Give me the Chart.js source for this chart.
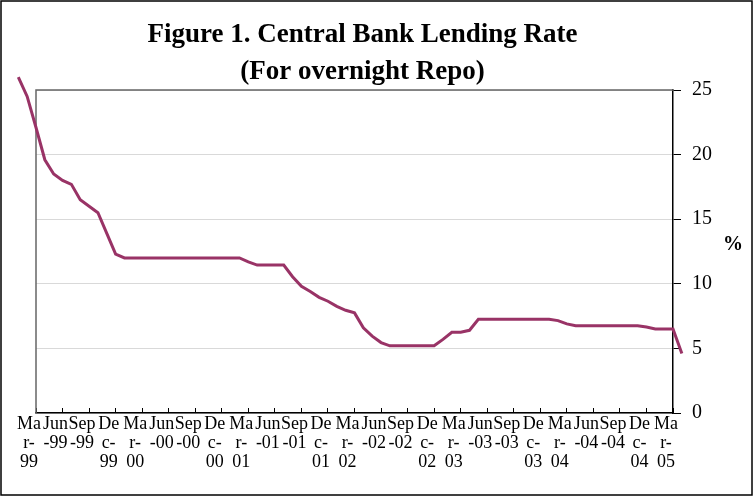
<!DOCTYPE html>
<html>
<head>
<meta charset="utf-8">
<script src="https://cdn.jsdelivr.net/npm/chart.js@4.4.0/dist/chart.umd.min.js"></script>
<style>
html,body{margin:0;padding:0;background:#fff;}
#wrap{width:756px;height:497px;position:relative;}
canvas{display:block;}
</style>
</head>
<body>
<div id="wrap"><canvas id="c" width="756" height="497"></canvas></div>
<script>
// Categories: monthly, Jan-99 .. Apr-05
const months = [
  "Jan-99","Feb-99","Mar-99","Apr-99","May-99","Jun-99","Jul-99","Aug-99","Sep-99","Oct-99","Nov-99","Dec-99",
  "Jan-00","Feb-00","Mar-00","Apr-00","May-00","Jun-00","Jul-00","Aug-00","Sep-00","Oct-00","Nov-00","Dec-00",
  "Jan-01","Feb-01","Mar-01","Apr-01","May-01","Jun-01","Jul-01","Aug-01","Sep-01","Oct-01","Nov-01","Dec-01",
  "Jan-02","Feb-02","Mar-02","Apr-02","May-02","Jun-02","Jul-02","Aug-02","Sep-02","Oct-02","Nov-02","Dec-02",
  "Jan-03","Feb-03","Mar-03","Apr-03","May-03","Jun-03","Jul-03","Aug-03","Sep-03","Oct-03","Nov-03","Dec-03",
  "Jan-04","Feb-04","Mar-04","Apr-04","May-04","Jun-04","Jul-04","Aug-04","Sep-04","Oct-04","Nov-04","Dec-04",
  "Jan-05","Feb-05","Mar-05","Apr-05"
];
// Central bank lending rate (overnight repo), %
const rates = [
  26.0, 24.5, 22.1, 19.6, 18.5, 18.0, 17.7, 16.5, 16.0, 15.5, 13.9, 12.3,
  12.0, 12.0, 12.0, 12.0, 12.0, 12.0, 12.0, 12.0, 12.0, 12.0, 12.0, 12.0,
  12.0, 12.0, 11.7, 11.45, 11.45, 11.45, 11.45, 10.55, 9.8, 9.4, 8.95, 8.65,
  8.25, 7.95, 7.75, 6.6, 5.95, 5.45, 5.2, 5.2, 5.2, 5.2, 5.2, 5.2,
  5.7, 6.25, 6.25, 6.4, 7.25, 7.25, 7.25, 7.25, 7.25, 7.25, 7.25, 7.25,
  7.25, 7.15, 6.9, 6.75, 6.75, 6.75, 6.75, 6.75, 6.75, 6.75, 6.75, 6.65,
  6.5, 6.5, 6.5, 4.6
];
// Axis range shown (first / last labelled month) and label step
const firstShown = "Mar-99";
const lastShown = "Mar-05";
const labelStep = 3;
// Wrapped tick labels, as printed
const tickLabels = [
  ["Ma","r-","99"],["Jun","-99"],["Sep","-99"],["De","c-","99"],
  ["Ma","r-","00"],["Jun","-00"],["Sep","-00"],["De","c-","00"],
  ["Ma","r-","01"],["Jun","-01"],["Sep","-01"],["De","c-","01"],
  ["Ma","r-","02"],["Jun","-02"],["Sep","-02"],["De","c-","02"],
  ["Ma","r-","03"],["Jun","-03"],["Sep","-03"],["De","c-","03"],
  ["Ma","r-","04"],["Jun","-04"],["Sep","-04"],["De","c-","04"],
  ["Ma","r-","05"]
];
const yMin = 0, yMax = 25, yStep = 5;
const titleLines = ["Figure 1. Central Bank Lending Rate", "(For overnight Repo)"];
const yUnit = "%";

const iFirst = months.indexOf(firstShown);
const iLast = months.indexOf(lastShown);

const SERIF = "'Liberation Serif','Times New Roman',serif";

const decor = {
  id: 'decor',
  beforeDraw(chart) {
    const ctx = chart.ctx;
    ctx.save();
    ctx.fillStyle = '#fff';
    ctx.fillRect(0, 0, chart.width, chart.height);
    ctx.strokeStyle = '#000';
    ctx.lineWidth = 1.5;
    ctx.strokeRect(1, 1, 751, 494);
    ctx.restore();
  },
  beforeDatasetsDraw(chart) {
    const ctx = chart.ctx, a = chart.chartArea;
    ctx.save();
    ctx.strokeStyle = '#666';
    ctx.lineWidth = 1.5;
    ctx.beginPath();
    ctx.moveTo(a.left, a.bottom);
    ctx.lineTo(a.left, a.top);
    ctx.lineTo(a.right, a.top);
    ctx.stroke();
    ctx.restore();
  },
  afterDraw(chart) {
    const ctx = chart.ctx, a = chart.chartArea;
    ctx.save();
    ctx.fillStyle = '#000';
    ctx.textAlign = 'center';
    ctx.textBaseline = 'alphabetic';
    ctx.font = "bold 27px " + SERIF;
    const cx = (a.left + a.right) / 2 + 8;
    ctx.fillText(titleLines[0], cx, 42);
    ctx.fillText(titleLines[1], cx, 79);
    ctx.font = "bold 20px " + SERIF;
    ctx.textBaseline = 'middle';
    ctx.fillText(yUnit, 733, 245);
    ctx.restore();
  }
};

new Chart(document.getElementById('c'), {
  type: 'line',
  data: {
    labels: months,
    datasets: [{
      data: rates,
      borderColor: '#993366',
      borderWidth: 3,
      pointRadius: 0,
      tension: 0,
      fill: false,
      clip: false
    }]
  },
  options: {
    responsive: false,
    animation: false,
    devicePixelRatio: 1,
    layout: { padding: { left: 36, top: 90, right: 0, bottom: 0 } },
    plugins: { legend: { display: false }, title: { display: false }, tooltip: { enabled: false } },
    scales: {
      x: {
        type: 'category',
        offset: false,
        afterDataLimits(s) { s.min = iFirst; s.max = iLast; },
        afterBuildTicks(s) { s.ticks = s.ticks.filter(t => (t.value - iFirst) % labelStep === 0); },
        afterFit(s) { s.height = 84; },
        grid: { drawOnChartArea: false, drawTicks: true, tickLength: -5, tickColor: '#000' },
        border: { display: true, color: '#000', width: 1.5 },
        ticks: {
          autoSkip: false, maxRotation: 0, minRotation: 0, padding: 7,
          labelOffset: -7,
          color: '#000',
          font: { family: SERIF, size: 18, lineHeight: 1.05 },
          callback: (v) => tickLabels[(v - iFirst) / labelStep]
        }
      },
      y: {
        position: 'right',
        min: yMin, max: yMax,
        afterFit(s) { s.width = 83; },
        grid: { color: '#d9d9d9', lineWidth: 1, drawTicks: true, tickLength: 8, tickColor: '#000' },
        border: { display: true, color: '#000', width: 1.5 },
        ticks: {
          stepSize: yStep, padding: 11, color: '#000',
          font: { family: SERIF, size: 20 }
        }
      }
    }
  },
  plugins: [decor]
});
</script>
</body>
</html>
